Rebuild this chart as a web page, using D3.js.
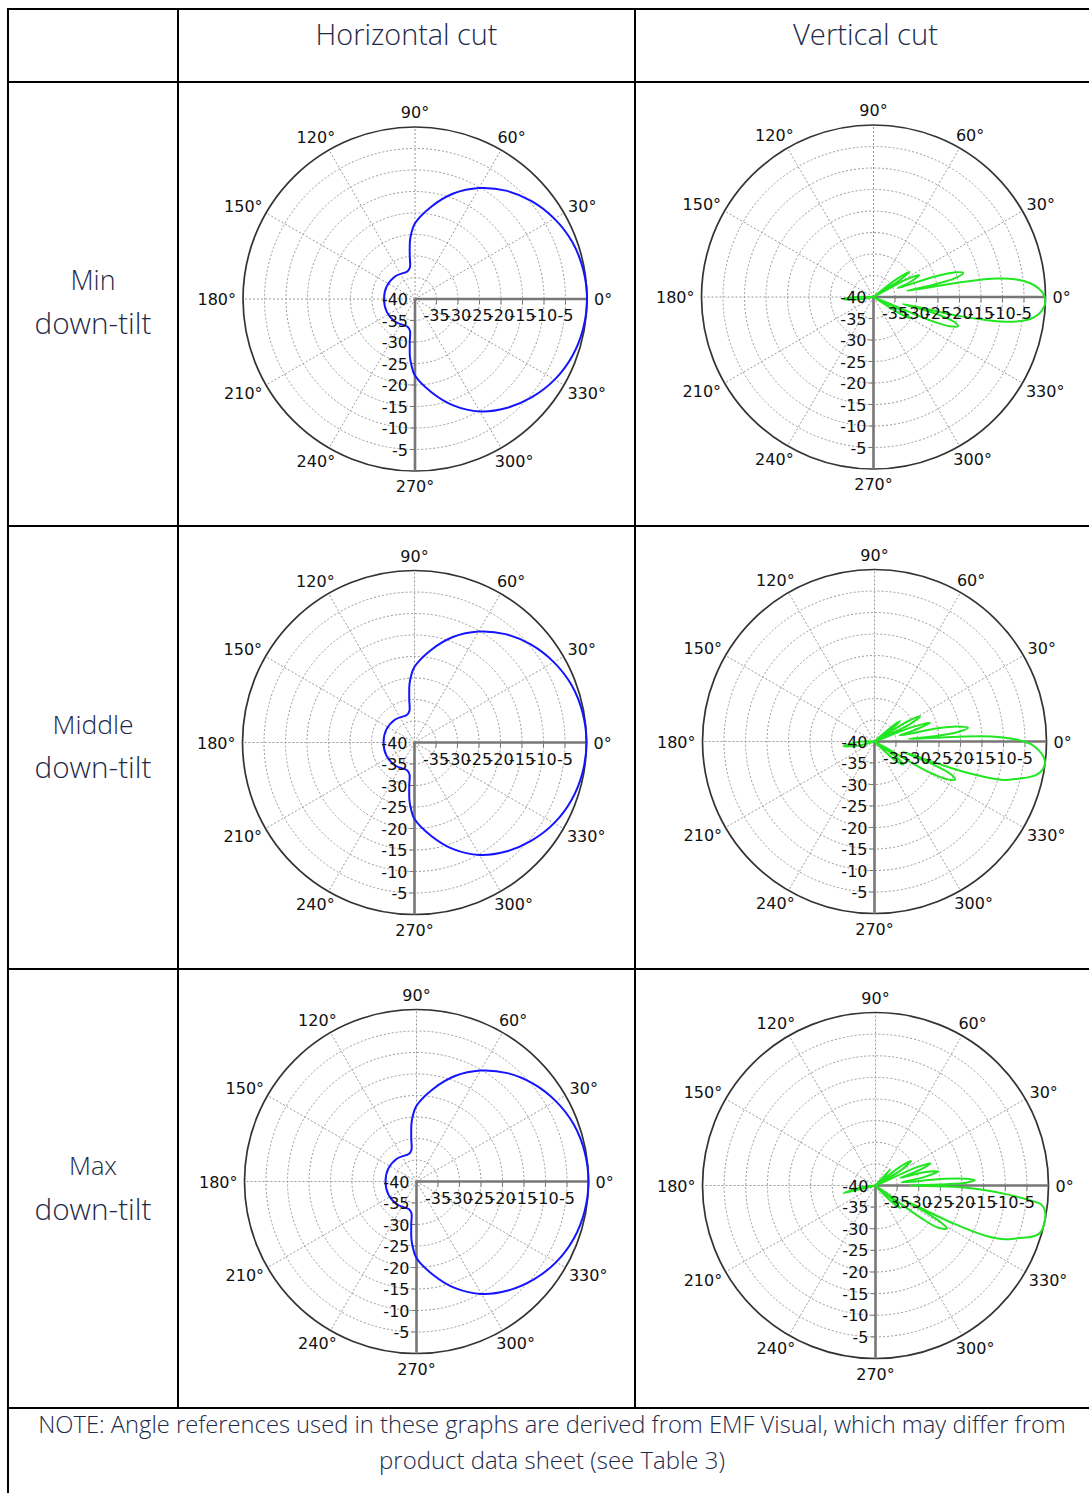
<!DOCTYPE html>
<html><head><meta charset="utf-8">
<script src="https://cdn.jsdelivr.net/npm/d3@7"></script>
<style>body{margin:0;background:#fff}svg{display:block}</style>
</head><body>
<svg id="c" width="1089" height="1493"></svg>
<script>
// ---------------- data ----------------
const columnHeaders = ["Horizontal cut", "Vertical cut"];
const rowLabels = [["Min", "down-tilt"], ["Middle", "down-tilt"], ["Max", "down-tilt"]];
const noteLines = ["NOTE: Angle references used in these graphs are derived from EMF Visual, which may differ from",
                   "product data sheet (see Table 3)"];
const angleTicks = [0, 30, 60, 90, 120, 150, 180, 210, 240, 270, 300, 330];
const radialTicks = [-40, -35, -30, -25, -20, -15, -10, -5];
const radialDomain = [-40, 0];

// horizontal cut: [angle deg, gain dB] (same for the three tilts)
const hCut = [[-180,-32.8],[-155,-32.8],[-130,-33],[-105,-33.3],[-99,-32.5],[-97,-30],[-95,-26.5],[-93,-24.5],
  [-90,-22.2],[-80,-18],[-70,-13.6],[-60,-9.8],[-50,-6.9],[-40,-4.5],[-30,-2.5],[-20,-1.1],[-10,-0.3],[0,0],
  [10,-0.3],[20,-1.1],[30,-2.6],[40,-4.6],[50,-7.1],[60,-10.2],[70,-13.9],[80,-18.2],[90,-22.4],[93,-24.5],
  [95,-26.5],[97,-30],[99,-32.5],[105,-33.3],[130,-33],[155,-32.8]];

// vertical cuts: [angle deg, gain dB]
const vCutMin = [[-180,-36],[-176,-33],[-172,-36],[-166,-40],
  [-40,-40],[-34,-40],[-32,-32],[-30,-30.2],[-28,-31],[-26,-33],[-24,-40],
  [-22.5,-26],[-21,-21],[-19,-19.2],[-17,-20.5],[-15,-25],[-13.5,-33],
  [-12.5,-20],[-11.5,-13],[-10,-7],[-8,-3.2],[-6,-1.4],[-4,-0.5],[-1.5,0],
  [1,-0.5],[3,-1.6],[5,-3.4],[7,-6.5],[8.5,-11],[9.5,-18],[10.5,-32],
  [11.5,-26],[13,-20.5],[15,-18.4],[17,-20.5],[18.5,-25],[20,-34],
  [22,-31],[25.5,-28.2],[28,-31],[30,-40],
  [32.5,-33],[35,-29.8],[37.5,-33],[40,-40],[166,-40]];
const vCutMid = [[-180,-37],[-171.5,-32.7],[-166,-36],[-160,-40],
  [-47,-40],[-42,-33.5],[-38.6,-31.4],[-35.5,-33.5],[-33,-40],
  [-29.5,-26],[-27.5,-21],[-25.3,-19.3],[-23.3,-20.5],[-21.5,-25],[-20,-33],
  [-19,-20],[-18,-14],[-16.5,-8.5],[-14.5,-5.5],[-12.5,-2.5],[-10.5,-0.8],[-7.5,0],
  [-5,-0.6],[-3,-1.8],[-1,-3.6],[0.8,-7],[2.3,-12],[3.2,-19],[4.2,-32],
  [5,-26],[6.5,-20.5],[8.3,-18],[10.3,-20.5],[11.8,-25],[13.5,-34],
  [15.5,-31],[18.6,-26.4],[21,-31],[23.5,-40],
  [26,-31],[29,-27.9],[31.5,-31],[34,-40],
  [36.5,-35],[38.5,-32.4],[40.5,-35],[43,-40],[160,-40]];
const vCutMax = [[-180,-40],[-174,-37],[-166.5,-32.4],[-160,-40],
  [-50,-40],[-45.5,-35],[-42.5,-32.3],[-39.5,-35],[-37,-40],
  [-35.5,-27],[-34,-22.5],[-31,-20.7],[-29.5,-22.5],[-28,-27],[-27,-33],
  [-26,-20],[-24.5,-12],[-22.5,-7.5],[-20.3,-4.9],[-18,-1.8],[-16,-0.4],[-12,0],
  [-8.5,-0.4],[-6.5,-1.5],[-5.5,-4],[-4,-9],[-2.2,-15.6],[-1,-21],[0,-32],
  [1,-24],[1.8,-19],[3,-17],[4.2,-19],[5.5,-24],[7,-34],
  [9.5,-29],[12.5,-25.2],[15.5,-29],[17,-34],[19.5,-29],[22,-26.3],[24,-30],[26,-40],
  [31,-33],[34.8,-30.1],[37.5,-33],[40,-40],
  [45,-37],[48,-35],[51,-40],[166,-40]];

const horizontalSeries = [hCut, hCut, hCut];
const verticalSeries = [vCutMin, vCutMid, vCutMax];

// ---------------- layout ----------------
const svg = d3.select("#c");
svg.append("rect").attr("width", 1089).attr("height", 1493).attr("fill", "#fff");

const colX = [8, 178, 635, 1096];
const rowY = [9, 82, 526, 969, 1408];
const centers = [[[415, 299], [873.5, 297]], [[414.5, 742.5], [874.5, 741.5]], [[416.5, 1181.5], [875.5, 1185.5]]];
const radii = [[172, 172], [172, 172], [172, 173]];
const textColor = "#1d2948";
const headFont = "'Open Sans', 'Noto Sans', sans-serif";

function fitText(sel, target) {
  sel.style("font-size", "20px");
  const w = sel.node().getComputedTextLength();
  sel.style("font-size", (20 * target / w) + "px");
}

function polar(g, cx, cy, R, data, color) {
  const r = d3.scaleLinear().domain(radialDomain).range([0, R]).clamp(true);
  const a = d3.scaleLinear().domain([0, 360]).range([Math.PI / 2, Math.PI / 2 - 2 * Math.PI]);
  const p = g.append("g").attr("transform", `translate(${cx},${cy})`);
  // grid rings
  p.selectAll("circle.ring").data(radialTicks.slice(1)).join("circle")
    .attr("r", d => r(d)).attr("fill", "none").attr("stroke", "#9a9a9a")
    .attr("stroke-width", 1).attr("stroke-dasharray", "2,2");
  // spokes
  p.selectAll("line.spoke").data(angleTicks).join("line")
    .attr("x1", 0).attr("y1", 0)
    .attr("x2", d => R * Math.sin(a(d))).attr("y2", d => -R * Math.cos(a(d)))
    .attr("stroke", "#9a9a9a").attr("stroke-width", 1).attr("stroke-dasharray", "2,2");
  // outer circle
  p.append("circle").attr("r", R).attr("fill", "none").attr("stroke", "#333").attr("stroke-width", 1.7);
  // axes
  p.append("line").attr("x1", 0).attr("y1", 0).attr("x2", R).attr("y2", 0)
    .attr("stroke", "#777").attr("stroke-width", 2.6);
  p.append("line").attr("x1", 0).attr("y1", 0).attr("x2", 0).attr("y2", R)
    .attr("stroke", "#777").attr("stroke-width", 2.6);
  // ticks
  p.selectAll("line.tx").data(radialTicks.slice(1)).join("line")
    .attr("x1", d => r(d)).attr("x2", d => r(d)).attr("y1", 0).attr("y2", 5)
    .attr("stroke", "#777").attr("stroke-width", 1);
  p.selectAll("line.ty").data(radialTicks.slice(1)).join("line")
    .attr("y1", d => r(d)).attr("y2", d => r(d)).attr("x1", 0).attr("x2", -5)
    .attr("stroke", "#777").attr("stroke-width", 1);
  // pattern
  const line = d3.lineRadial().angle(d => a(d[0])).radius(d => r(d[1]))
    .curve(d3.curveCatmullRomClosed.alpha(0.5));
  p.append("path").datum(data).attr("d", line).attr("fill", "none")
    .attr("stroke", color).attr("stroke-width", 2).attr("stroke-linejoin", "round");
  // radial labels on y axis (downwards)
  const fam = "'DejaVu Sans', Verdana, sans-serif", fs = "16px", fill = "#111";
  p.selectAll("text.ly").data(radialTicks).join("text")
    .attr("x", -7).attr("y", d => r(d) + 6).attr("text-anchor", "end")
    .attr("font-family", fam).attr("font-size", fs).attr("fill", fill)
    .text(d => d);
  // radial labels on x axis
  p.selectAll("text.lx").data(radialTicks.slice(1)).join("text")
    .attr("x", d => r(d)).attr("y", 22).attr("text-anchor", "middle")
    .attr("font-family", fam).attr("font-size", fs).attr("fill", fill)
    .text(d => d);
  // angle labels
  const LR = R + 7;
  angleTicks.forEach(t => {
    const rad = t * Math.PI / 180;
    const px = LR * Math.cos(rad), py = -LR * Math.sin(rad);
    const tx = p.append("text").attr("font-family", fam).attr("font-size", fs)
      .attr("fill", fill).text(t + "\u00B0");
    const w = tx.node().getComputedTextLength();
    tx.attr("x", px - w * (1 - Math.cos(rad)) / 2).attr("y", py - Math.sin(rad) * 8 + 6);
  });
}

// plots
for (let i = 0; i < 3; i++) {
  polar(svg, centers[i][0][0], centers[i][0][1], radii[i][0], horizontalSeries[i], "#1414ff");
  polar(svg, centers[i][1][0], centers[i][1][1], radii[i][1], verticalSeries[i], "#22e622");
}

// table lines
const grid = svg.append("g").attr("stroke", "#000").attr("stroke-width", 2);
rowY.forEach(y => grid.append("line").attr("x1", colX[0] - 1).attr("x2", colX[3]).attr("y1", y).attr("y2", y));
grid.append("line").attr("x1", colX[0]).attr("x2", colX[0]).attr("y1", rowY[0]).attr("y2", 1520);
[colX[1], colX[2]].forEach(x => grid.append("line").attr("x1", x).attr("x2", x).attr("y1", rowY[0]).attr("y2", rowY[4]));
grid.append("line").attr("x1", colX[3]).attr("x2", colX[3]).attr("y1", rowY[0]).attr("y2", 1520);

// headers
const headWidths = [182, 145];
columnHeaders.forEach((h, i) => {
  const t = svg.append("text").attr("x", (colX[i + 1] + colX[i + 2]) / 2).attr("y", 45)
    .attr("text-anchor", "middle").attr("font-family", headFont).attr("font-weight", 300)
    .attr("fill", textColor).text(h);
  fitText(t, headWidths[i]);
});

// row labels
const rowBase = [[290, 334], [734, 778], [1175, 1220]];
const rowWidths = [[45, 117], [81, 117], [48, 117]];
rowLabels.forEach((lines, i) => {
  lines.forEach((s, j) => {
    const t = svg.append("text").attr("x", 93).attr("y", rowBase[i][j]).attr("text-anchor", "middle")
      .attr("font-family", headFont).attr("font-weight", 300).attr("fill", textColor).text(s);
    fitText(t, rowWidths[i][j]);
  });
});

// note
const noteWidths = [1028, 346];
const noteBase = [1433, 1469];
noteLines.forEach((s, j) => {
  const t = svg.append("text").attr("x", 552).attr("y", noteBase[j]).attr("text-anchor", "middle")
    .attr("font-family", headFont).attr("font-weight", 300).attr("fill", textColor).text(s);
  fitText(t, noteWidths[j]);
});
</script>
</body></html>
